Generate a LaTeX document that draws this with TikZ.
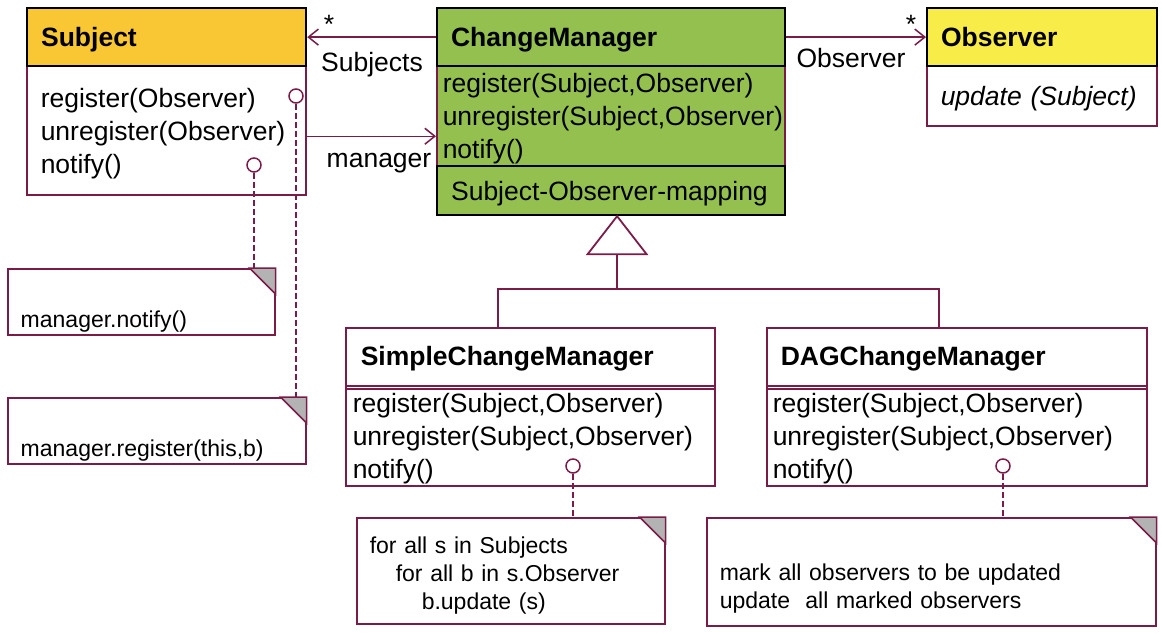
\documentclass[tikz,border=0pt]{standalone}
\usepackage{fontspec}
\setmainfont{Liberation Sans}
\usetikzlibrary{arrows.meta,positioning}
\definecolor{umlline}{HTML}{7B1C48}
\definecolor{subjfill}{HTML}{F9C733}
\definecolor{cmfill}{HTML}{93C04F}
\definecolor{obsfill}{HTML}{F8EC48}
\definecolor{foldgray}{HTML}{B3B3B3}

\begin{document}
\begin{tikzpicture}
  [x=0.5pt,y=-0.5pt,
   every node/.style={font=\fontsize{13.25}{16.5}\selectfont},
   headN/.style={rectangle,draw=black,line width=1.1pt,anchor=north west,inner ysep=0pt,text depth=0pt,align=left,font=\fontsize{13.25}{16.5}\selectfont\bfseries},
   bodyN/.style={rectangle,draw=umlline,line width=0.75pt,anchor=north west,inner ysep=0pt,align=left},
   subhdrN/.style={rectangle,draw=umlline,line width=0.75pt,anchor=north west,inner ysep=0pt,align=left,font=\fontsize{13.25}{16.5}\selectfont\bfseries},
   noteN/.style={rectangle,draw=umlline,line width=0.75pt,fill=white,anchor=north west,inner ysep=0pt,inner xsep=6.5pt,align=left,font=\fontsize{11.5}{14}\selectfont},
   lolliN/.style={circle,draw=umlline,line width=0.75pt,fill=white,inner sep=0pt,minimum size=7pt},
   lblN/.style={inner sep=0pt},
   assocL/.style={draw=umlline,line width=0.75pt,-{Straight Barb[length=5pt,width=8pt]}},
   depL/.style={draw=umlline,line width=0.9pt,dash pattern=on 3pt off 1.5pt},
   inhL/.style={draw=umlline,line width=0.9pt},
   foldC/.style={fill=foldgray,draw=umlline,line width=0.75pt}]

  \useasboundingbox (0,0) rectangle (1162,632);

  % Subject
  \node[bodyN,minimum width=139.5pt,minimum height=64.5pt,text width=125.5pt,inner xsep=7pt] (subjbody) at (26,65)
       {\rule{0pt}{12.8pt}register(Observer)\\unregister(Observer)\\notify()};
  \node[headN,fill=subjfill,minimum width=139.5pt,minimum height=29pt,text width=125.5pt,inner xsep=7pt] (subjhdr) at (26,7) {Subject};

  % ChangeManager
  \node[bodyN,fill=cmfill,minimum width=174pt,minimum height=50pt,text width=168pt,inner xsep=3pt] (cmops) at (436,65)
       {\rule{0pt}{12.8pt}register(Subject,Observer)\\unregister(Subject,Observer)\\notify()};
  \node[headN,fill=cmfill,minimum width=174pt,minimum height=24.5pt,text width=160pt,inner xsep=7pt,font=\fontsize{13.25}{16.5}\selectfont] (cmmap) at (436,165) {Subject-Observer-mapping};
  \node[headN,fill=cmfill,minimum width=174pt,minimum height=29pt,text width=160pt,inner xsep=7pt] (cmhdr) at (436,7) {ChangeManager};

  % Observer
  \node[bodyN,minimum width=115pt,minimum height=30pt,text width=101pt,inner xsep=7pt,text depth=0pt,font=\fontsize{13.25}{16.5}\selectfont\itshape] (obsbody) at (926,65) {update (Subject)};
  \node[headN,fill=obsfill,minimum width=115pt,minimum height=29pt,text width=101pt,inner xsep=7pt] (obshdr) at (926,7) {Observer};

  % subclasses
  \node[bodyN,minimum width=184.5pt,minimum height=50pt,text width=177.5pt,inner xsep=3.5pt] (simpbody) at (345,385)
       {\rule{0pt}{12.8pt}register(Subject,Observer)\\unregister(Subject,Observer)\\notify()};
  \node[subhdrN,minimum width=184.5pt,minimum height=30.5pt,text width=169.5pt,inner xsep=7.5pt] (simphdr) at (345,327) {SimpleChangeManager};

  \node[bodyN,minimum width=190pt,minimum height=50pt,text width=184pt,inner xsep=3pt] (dagbody) at (766,385)
       {\rule{0pt}{12.8pt}register(Subject,Observer)\\unregister(Subject,Observer)\\notify()};
  \node[subhdrN,minimum width=190pt,minimum height=30.5pt,text width=176pt,inner xsep=7pt] (daghdr) at (766,327) {DAGChangeManager};

  % notes
  \node[noteN,minimum width=133.5pt,minimum height=33pt,text width=120.5pt] (n1) at (7,268) {\rule{0pt}{14pt}\\manager.notify()};
  \node[noteN,minimum width=149pt,minimum height=33pt,text width=136pt] (n2) at (7,397) {\rule{0pt}{14pt}\\manager.register(this,b)};
  \node[noteN,minimum width=154pt,minimum height=53pt,text width=141pt] (n3) at (356,517)
       {\rule{0pt}{13.4pt}for all s in Subjects\\\hspace*{13pt}for all b in s.Observer\\\hspace*{26pt}b.update (s)};
  \node[noteN,minimum width=224.5pt,minimum height=54pt,text width=211.5pt] (n4) at (706,517)
       {\rule{0pt}{11pt}\\mark all observers to be updated\\update\ \ all marked observers};

  \filldraw[foldC] ([xshift=-13pt]n1.north east) -- ([yshift=-13pt]n1.north east) -- (n1.north east) -- cycle;
  \filldraw[foldC] ([xshift=-13pt]n2.north east) -- ([yshift=-13pt]n2.north east) -- (n2.north east) -- cycle;
  \filldraw[foldC] ([xshift=-13pt]n3.north east) -- ([yshift=-13pt]n3.north east) -- (n3.north east) -- cycle;
  \filldraw[foldC] ([xshift=-13pt]n4.north east) -- ([yshift=-13pt]n4.north east) -- (n4.north east) -- cycle;

  % lollipops
  \node[lolliN] (c1) at (296,96)   {};
  \node[lolliN] (c2) at (254,165)  {};
  \node[lolliN] (c3) at (573,466)  {};
  \node[lolliN] (c4) at (1003,466) {};

  \draw[depL] (c1.south) -- (c1.south |- n2.north);
  \draw[depL] (c2.south) -- (c2.south |- n1.north);
  \draw[depL] (c3.south) -- (c3.south |- n3.north);
  \draw[depL] (c4.south) -- (c4.south |- n4.north);

  % associations
  \draw[assocL] (cmhdr.west) -- (subjhdr.east);
  \draw[assocL] (cmhdr.east) -- (obshdr.west);
  \coordinate (mgr) at ([yshift=-3pt]subjbody.east);
  \draw[assocL] (mgr) -- (mgr -| cmops.west);

  \node[lblN] (subjstar) at (329,24) {*};
  \node[lblN] (subjlbl)  at (372,65) {Subjects};
  \node[lblN] (obsstar)  at (911,24) {*};
  \node[lblN] (obslbl)   at (851,58) {Observer};
  \node[lblN] (mgrlbl)   at (379,163) {manager};

  % inheritance
  \coordinate (apex)  at ([xshift=3pt]cmmap.south);
  \coordinate (tbase) at ([yshift=-19pt]apex);
  \coordinate (bar)   at ([yshift=-17.5pt]tbase);
  \draw[inhL] (apex) -- ++(-14.75pt,-19pt) -- ++(29.5pt,0pt) -- cycle;
  \draw[inhL] (tbase) -- (bar);
  \draw[inhL] ([xshift=-16.25pt]simphdr.north) |- (bar) -| ([xshift=-9pt]daghdr.north);

\end{tikzpicture}
\end{document}
